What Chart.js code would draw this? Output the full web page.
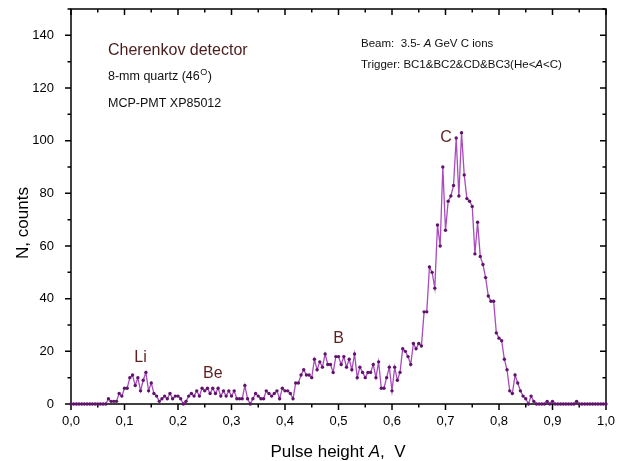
<!DOCTYPE html>
<html><head><meta charset="utf-8">
<script src="https://cdn.jsdelivr.net/npm/chart.js@4.4.1/dist/chart.umd.min.js"></script>
<style>html,body{margin:0;padding:0;background:#fff}canvas{display:block}</style>
</head><body>
<canvas id="c" width="617" height="461"></canvas>
<script>
const pulseHeight = [
0,0.005,0.01,0.015,0.02,0.025,0.03,0.035,0.04,0.045,0.05,0.055,0.06,0.065,0.07,0.075,0.08,0.085,0.09,0.095,
0.1,0.105,0.11,0.115,0.12,0.125,0.13,0.135,0.14,0.145,0.15,0.155,0.16,0.165,0.17,0.175,0.18,0.185,0.19,0.195,
0.2,0.205,0.21,0.215,0.22,0.225,0.23,0.235,0.24,0.245,0.25,0.255,0.26,0.265,0.27,0.275,0.28,0.285,0.29,0.295,
0.3,0.305,0.31,0.315,0.32,0.325,0.33,0.335,0.34,0.345,0.35,0.355,0.36,0.365,0.37,0.375,0.38,0.385,0.39,0.395,
0.4,0.405,0.41,0.415,0.42,0.425,0.43,0.435,0.44,0.445,0.45,0.455,0.46,0.465,0.47,0.475,0.48,0.485,0.49,0.495,
0.5,0.505,0.51,0.515,0.52,0.525,0.53,0.535,0.54,0.545,0.55,0.555,0.56,0.565,0.57,0.575,0.58,0.585,0.59,0.595,
0.6,0.605,0.61,0.615,0.62,0.625,0.63,0.635,0.64,0.645,0.65,0.655,0.66,0.665,0.67,0.675,0.68,0.685,0.69,0.695,
0.7,0.705,0.71,0.715,0.72,0.725,0.73,0.735,0.74,0.745,0.75,0.755,0.76,0.765,0.77,0.775,0.78,0.785,0.79,0.795,
0.8,0.805,0.81,0.815,0.82,0.825,0.83,0.835,0.84,0.845,0.85,0.855,0.86,0.865,0.87,0.875,0.88,0.885,0.89,0.895,
0.9,0.905,0.91,0.915,0.92,0.925,0.93,0.935,0.94,0.945,0.95,0.955,0.96,0.965,0.97,0.975,0.98,0.985,0.99,0.995,
1
];
const counts = [
0,0,0,0,0,0,0,0,0,0,0,0,0,0,2,1,1,1,4,3,
6,6,10,11,7,10,5,9,12,5,8,4,3,1,2,3,2,4,2,3,
3,2,0,1,3,4,3,5,3,6,5,6,4,6,4,6,3,5,3,5,
3,5,2,2,2,7,2,0,2,4,3,2,2,5,4,3,4,5,2,6,
5,5,4,2,8,8,11,13,11,11,10,17,13,16,14,19,15,15,12,18,
18,15,18,14,17,13,19,10,14,12,10,12,12,15,10,16,6,6,10,14,
5,14,9,12,21,20,18,15,23,21,23,22,35,35,52,50,44,68,60,90,
66,77,79,83,101,79,103,87,78,77,75,57,69,56,53,48,41,39,39,27,
25,24,17,13,5,4,11,8,5,3,2,0,3,1,0,0,0,0,1,0,
1,0,0,0,0,0,0,0,0,1,0,0,0,0,0,0,0,0,0,0,
0
];
const xTicks = [0,0.1,0.2,0.3,0.4,0.5,0.6,0.7,0.8,0.9,1.0];
const yTicks = [0,20,40,60,80,100,120,140];
const peakNames = ['Li','Be','B','C'];
const peakAtX = [0.13,0.265,0.5,0.701];
const peakAtY = [17.6,11.7,25,101];

const FONT = '"Liberation Sans", Arial, Helvetica, sans-serif';
const points = pulseHeight.map((v,i)=>({x:v,y:counts[i]}));

const framePlugin = {
  id:'frame',
  beforeDatasetsDraw(chart){
    const {ctx, chartArea:{left,right,top,bottom}, scales:{x,y}} = chart;
    ctx.save();
    ctx.strokeStyle='#000'; ctx.lineWidth=1.5;
    ctx.strokeRect(left,top,right-left,bottom-top);
    ctx.beginPath();
    for (let i=0;i<xTicks.length;i++){
      const vals=[xTicks[i]];
      if(i<xTicks.length-1) vals.push((xTicks[i]+xTicks[i+1])/2);
      vals.forEach((v,k)=>{
        const px=x.getPixelForValue(v);
        const L = k===0?6:3.5;
        ctx.moveTo(px,bottom); ctx.lineTo(px,bottom+L);
        ctx.moveTo(px,top); ctx.lineTo(px,top+L);
      });
    }
    const yVals=[];
    for (let i=0;i<yTicks.length;i++){
      yVals.push([yTicks[i],true]);
      yVals.push([yTicks[i]+(yTicks[1]-yTicks[0])/2,false]);
    }
    yVals.forEach(([v,maj])=>{
      if(v>y.max) return;
      const py=y.getPixelForValue(v);
      const L = maj?6:3.5;
      ctx.moveTo(left,py); ctx.lineTo(left-L,py);
      ctx.moveTo(right,py); ctx.lineTo(right-L,py);
    });
    ctx.stroke();
    ctx.restore();
  },
  afterDraw(chart){
    const {ctx, scales:{x,y}} = chart;
    ctx.save();
    ctx.fillStyle='#5e1f1f';
    ctx.font='16px '+FONT;
    ctx.textAlign='center'; ctx.textBaseline='middle';
    peakNames.forEach((n,i)=>ctx.fillText(n, x.getPixelForValue(peakAtX[i]), y.getPixelForValue(peakAtY[i])));
    ctx.textAlign='left'; ctx.textBaseline='alphabetic';
    ctx.fillStyle='#4a1c1c';
    ctx.font='16px '+FONT;
    ctx.fillText('Cherenkov detector',108,55);
    ctx.fillStyle='#111';
    ctx.font='12.5px '+FONT;
    let t='8-mm quartz (46';
    ctx.fillText(t,108,80);
    let w=ctx.measureText(t).width;
    ctx.font='9px '+FONT;
    ctx.fillText('O',108+w+0.5,75);
    let w2=ctx.measureText('O').width;
    ctx.font='12.5px '+FONT;
    ctx.fillText(')',108+w+w2+1,80);
    ctx.fillText('MCP-PMT XP85012',108,107);
    let xx=361, by=47;
    const seg=(s,it)=>{ctx.font=(it?'italic ':'')+'11.5px '+FONT; ctx.fillText(s,xx,by); xx+=ctx.measureText(s).width;};
    seg('Beam:  3.5- ',false); seg('A',true); seg(' GeV C ions',false);
    by=68; xx=361;
    seg('Trigger: BC1&BC2&CD&BC3(He<',false); seg('A',true); seg('<C)',false);
    ctx.fillStyle='#000';
    const p1='Pulse height ', p2='A', p3=',  V';
    ctx.font='17px '+FONT; const a=ctx.measureText(p1).width;
    ctx.font='italic 17px '+FONT; const b=ctx.measureText(p2).width;
    ctx.font='17px '+FONT; const c=ctx.measureText(p3).width;
    let sx = 338 - (a+b+c)/2;
    ctx.fillText(p1,sx,457);
    ctx.font='italic 17px '+FONT; ctx.fillText(p2,sx+a,457);
    ctx.font='17px '+FONT; ctx.fillText(p3,sx+a+b,457);
    ctx.translate(23,223); ctx.rotate(-Math.PI/2);
    ctx.textAlign='center'; ctx.textBaseline='middle';
    ctx.fillText('N, counts',0,0);
    ctx.restore();
  }
};

new Chart(document.getElementById('c'),{
  type:'line',
  data:{datasets:[{
    data:points,
    borderColor:'#a94bbd',
    borderWidth:1.3,
    pointRadius:1.7,
    pointBackgroundColor:'#5e1469',
    pointBorderColor:'#5e1469',
    pointBorderWidth:0,
    tension:0,
    clip:false
  }]},
  options:{
    responsive:false,
    animation:false,
    devicePixelRatio:1,
    layout:{padding:{left:0,right:11,top:9,bottom:0}},
    plugins:{legend:{display:false},tooltip:{enabled:false}},
    scales:{
      x:{type:'linear',min:0,max:1,
        afterBuildTicks:s=>{s.ticks=xTicks.map(v=>({value:v}));},
        afterFit:s=>{s.height=57; s.paddingLeft=0; s.paddingRight=0;},
        grid:{display:false,drawTicks:false},border:{display:false},
        ticks:{padding:10,color:'#000',font:{family:FONT,size:13},maxRotation:0,
          callback:v=>v.toFixed(1).replace('.',',')}},
      y:{type:'linear',min:0,max:150,
        afterBuildTicks:s=>{s.ticks=yTicks.map(v=>({value:v}));},
        afterFit:s=>{s.width=71; s.paddingTop=0; s.paddingBottom=0;},
        grid:{display:false,drawTicks:false},border:{display:false},
        ticks:{padding:17,color:'#000',font:{family:FONT,size:13},
          callback:v=>String(v)}}
    }
  },
  plugins:[framePlugin]
});
</script>
</body></html>
